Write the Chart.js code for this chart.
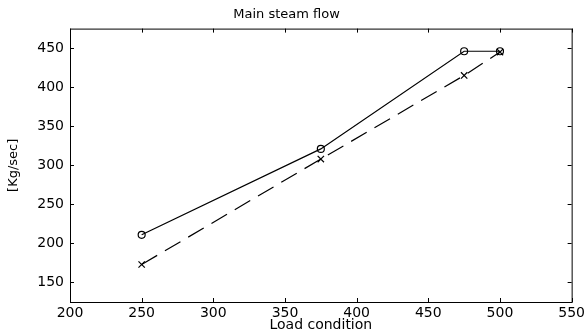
<!DOCTYPE html>
<html lang="en">
<head>
    <meta charset="UTF-8">
    <title>Main steam flow</title>
    <style>
        html, body { margin: 0; padding: 0; background: #fff; }
        #wrap { width: 588px; height: 334px; }
    </style>
</head>
<body>
    <div id="wrap">
        <canvas id="myChart" width="588" height="334"></canvas>
    </div>

    <script src="https://cdn.jsdelivr.net/npm/chart.js"></script>
    <script>
        // load conditions
        const loads = [250, 375, 475, 500];
        // circles, solid line
        const flowA = [211, 321, 446, 446];
        // crosses, dashed line
        const flowB = [173, 308, 415, 445];

        const xTicks = [200, 250, 300, 350, 400, 450, 500, 550];
        const yTicks = [150, 200, 250, 300, 350, 400, 450];

        const FONT = 'DejaVu Sans';

        // matlab style box with inward ticks
        const boxPlugin = {
            id: 'box',
            afterDraw(chart) {
                const { ctx, chartArea: a, scales } = chart;
                ctx.save();
                ctx.strokeStyle = '#000';
                ctx.lineWidth = 1;
                ctx.strokeRect(a.left + 0.5, a.top + 0.5, a.right - a.left, a.bottom - a.top);
                ctx.beginPath();
                xTicks.forEach(v => {
                    const x = Math.round(scales.x.getPixelForValue(v)) + 0.5;
                    ctx.moveTo(x, a.bottom); ctx.lineTo(x, a.bottom - 4);
                    ctx.moveTo(x, a.top); ctx.lineTo(x, a.top + 4);
                });
                yTicks.forEach(v => {
                    const y = Math.round(scales.y.getPixelForValue(v)) + 0.5;
                    ctx.moveTo(a.left, y); ctx.lineTo(a.left + 4, y);
                    ctx.moveTo(a.right, y); ctx.lineTo(a.right - 4, y);
                });
                ctx.stroke();
                ctx.restore();
            }
        };

        const ctx = document.getElementById('myChart');

        new Chart(ctx, {
            type: 'scatter',
            data: {
                datasets: [
                    {
                        label: 'A',
                        data: loads.map((x, i) => ({ x: x, y: flowA[i] })),
                        showLine: true,
                        borderColor: '#000',
                        borderWidth: 1.2,
                        pointStyle: 'circle',
                        pointRadius: 3.5,
                        pointBorderColor: '#000',
                        pointBackgroundColor: 'rgba(0,0,0,0)',
                        pointBorderWidth: 1.2
                    },
                    {
                        label: 'B',
                        data: loads.map((x, i) => ({ x: x, y: flowB[i] })),
                        showLine: true,
                        borderColor: '#000',
                        borderWidth: 1.2,
                        borderDash: [18, 9],
                        pointStyle: 'crossRot',
                        pointRadius: 4.5,
                        pointBorderColor: '#000',
                        pointBorderWidth: 1.2
                    }
                ]
            },
            options: {
                responsive: false,
                animation: false,
                layout: { padding: { left: 0, right: 15, top: 0, bottom: 0 } },
                plugins: {
                    legend: { display: false },
                    tooltip: { enabled: false },
                    title: {
                        display: true,
                        text: 'Main steam flow',
                        color: '#000',
                        font: { family: FONT, size: 13, weight: 'normal' },
                        padding: { top: 7, bottom: 6 }
                    }
                },
                scales: {
                    x: {
                        type: 'linear',
                        min: 200,
                        max: 550,
                        afterBuildTicks: s => { s.ticks = xTicks.map(v => ({ value: v })); },
                        afterFit: s => { s.height = 32; },
                        grid: { display: false, drawTicks: false },
                        border: { display: false },
                        ticks: {
                            color: '#000',
                            padding: 3,
                            maxRotation: 0,
                            font: { family: FONT, size: 14 }
                        },
                        title: {
                            display: true,
                            text: 'Load condition',
                            color: '#000',
                            font: { family: FONT, size: 14 },
                            padding: 0
                        }
                    },
                    y: {
                        type: 'linear',
                        min: 125,
                        max: 475,
                        afterBuildTicks: s => { s.ticks = yTicks.map(v => ({ value: v })); },
                        afterFit: s => { s.width = 70; },
                        grid: { display: false, drawTicks: false },
                        border: { display: false },
                        ticks: {
                            color: '#000',
                            padding: 6,
                            font: { family: FONT, size: 14 }
                        },
                        title: {
                            display: true,
                            text: '[Kg/sec]',
                            color: '#000',
                            font: { family: FONT, size: 13 },
                            padding: { top: 6, bottom: 0 }
                        }
                    }
                }
            },
            plugins: [boxPlugin]
        });
    </script>
</body>
</html>
